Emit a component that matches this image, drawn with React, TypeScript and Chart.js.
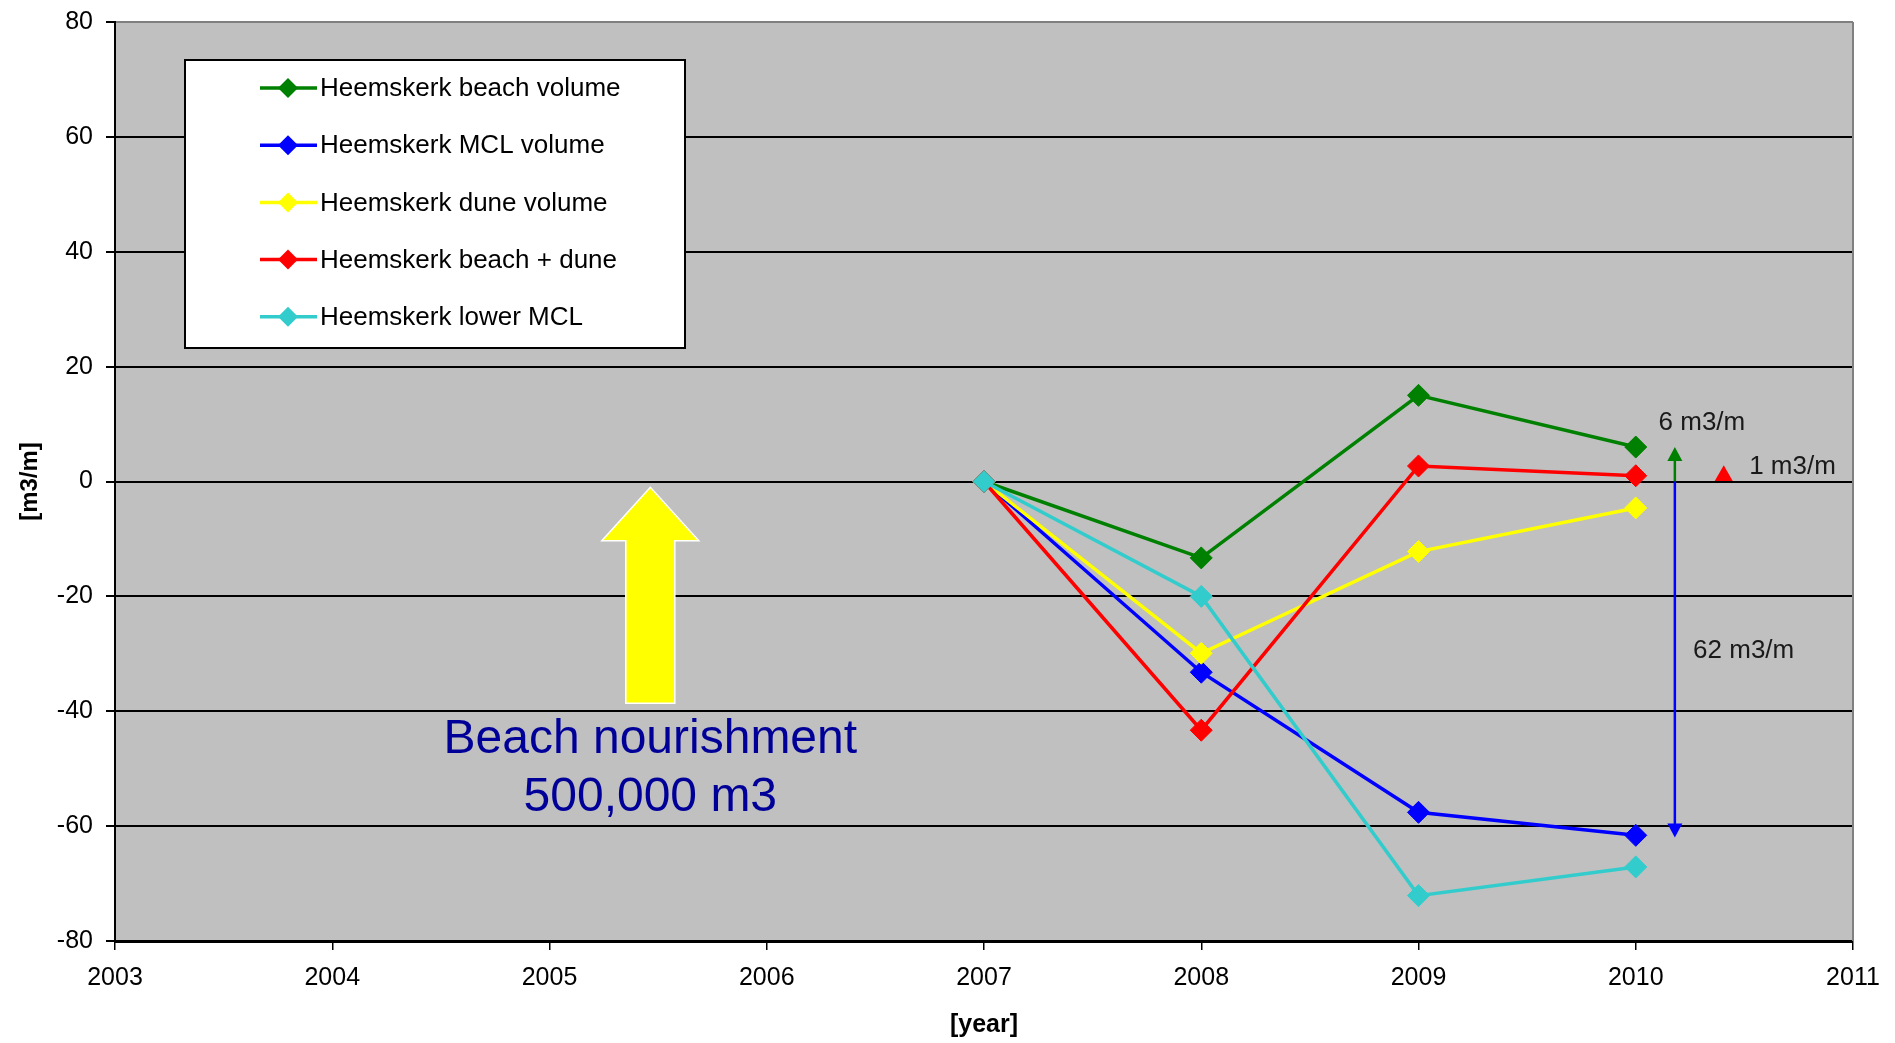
import React, { useEffect, useRef } from 'react';
import { Chart, registerables } from 'chart.js';

Chart.register(...registerables);

const FONT_FAMILY = '"Liberation Sans", Arial, Helvetica, sans-serif';

// Survey years and volume change relative to 2007 (m3/m)
const YEARS = [2007, 2008, 2009, 2010];
const BEACH_VOLUME = [0, -13.3, 15, 6];
const MCL_VOLUME = [0, -33.2, -57.6, -61.6];
const DUNE_VOLUME = [0, -29.9, -12.2, -4.6];
const BEACH_PLUS_DUNE = [0, -43.3, 2.7, 1];
const LOWER_MCL = [0, -20, -72.1, -67.1];

const SERIES_NAMES = [
  'Heemskerk beach volume',
  'Heemskerk MCL volume',
  'Heemskerk dune volume',
  'Heemskerk beach + dune',
  'Heemskerk lower MCL',
];
const SERIES_VALUES = [BEACH_VOLUME, MCL_VOLUME, DUNE_VOLUME, BEACH_PLUS_DUNE, LOWER_MCL];
const SERIES_COLORS = ['#008000', '#0000FF', '#FFFF00', '#FF0000', '#33CCCC'];

const X_TICKS = [2003, 2004, 2005, 2006, 2007, 2008, 2009, 2010, 2011];
const Y_TICKS = [-80, -60, -40, -20, 0, 20, 40, 60, 80];
const X_TITLE = '[year]';
const Y_TITLE = '[m3/m]';

// Nourishment marker (block arrow + caption), in axis units
const NOURISHMENT_YEAR = 2005.464;
const NOURISHMENT_TIP = -1;
const NOURISHMENT_HEAD_BASE = -10.3;
const NOURISHMENT_TAIL = -38.6;
const NOURISHMENT_TEXT = ['Beach nourishment', '500,000 m3'];
const NOURISHMENT_TEXT_Y = [-44.9, -55];

// Net changes at the last survey
const CHANGE_ARROW_YEAR = 2010.18;
const BEACH_GAIN = 6;
const MCL_LOSS = -62;
const NET_MARK_YEAR = 2010.405;
const BEACH_DUNE_NET = 1;
const GAIN_LABEL_AT = [2010.105, 10.2];
const NET_LABEL_AT = [2010.522, 2.54];
const LOSS_LABEL_AT = [2010.264, -29.5];

const unitLabel = (v: number) => `${Math.abs(v)} m3/m`;

const drawArrowHead = (ctx: CanvasRenderingContext2D, x: number, tipY: number, dir: number, color: string) => {
  ctx.fillStyle = color;
  ctx.beginPath();
  ctx.moveTo(x, tipY);
  ctx.lineTo(x - 7.5, tipY - dir * 14);
  ctx.lineTo(x + 7.5, tipY - dir * 14);
  ctx.closePath();
  ctx.fill();
};

const decorPlugin = {
  id: 'decor',
  beforeDraw(chart: any) {
    const { ctx, chartArea: a } = chart;
    ctx.save();
    ctx.fillStyle = '#C0C0C0';
    ctx.fillRect(a.left, a.top, a.right - a.left, a.bottom - a.top);
    ctx.restore();
  },
  afterDraw(chart: any) {
    const { ctx, chartArea: a } = chart;
    const xs = chart.scales.x;
    const ys = chart.scales.y;
    const px = (v: number) => xs.getPixelForValue(v);
    const py = (v: number) => ys.getPixelForValue(v);

    ctx.save();

    // right border of the plot area
    ctx.strokeStyle = '#808080';
    ctx.lineWidth = 2;
    ctx.beginPath();
    ctx.moveTo(a.right, a.top);
    ctx.lineTo(a.right, a.bottom);
    ctx.stroke();

    // nourishment block arrow
    const cx = px(NOURISHMENT_YEAR);
    const tipY = py(NOURISHMENT_TIP);
    const baseY = py(NOURISHMENT_HEAD_BASE);
    const tailY = py(NOURISHMENT_TAIL);
    const headHalf = 48.5;
    const shaftHalf = 24.5;
    ctx.beginPath();
    ctx.moveTo(cx, tipY);
    ctx.lineTo(cx + headHalf, baseY);
    ctx.lineTo(cx + shaftHalf, baseY);
    ctx.lineTo(cx + shaftHalf, tailY);
    ctx.lineTo(cx - shaftHalf, tailY);
    ctx.lineTo(cx - shaftHalf, baseY);
    ctx.lineTo(cx - headHalf, baseY);
    ctx.closePath();
    ctx.fillStyle = '#FFFF00';
    ctx.fill();
    ctx.strokeStyle = '#FFFFFF';
    ctx.lineWidth = 1.5;
    ctx.stroke();

    ctx.fillStyle = '#000099';
    ctx.font = `48px ${FONT_FAMILY}`;
    ctx.textAlign = 'center';
    ctx.textBaseline = 'middle';
    NOURISHMENT_TEXT.forEach((t, i) => ctx.fillText(t, cx, py(NOURISHMENT_TEXT_Y[i])));

    // gain / loss arrows
    const ax = px(CHANGE_ARROW_YEAR);
    const zeroY = py(0);
    const gainY = py(BEACH_GAIN);
    const lossY = py(MCL_LOSS);
    ctx.lineWidth = 2.5;
    ctx.strokeStyle = SERIES_COLORS[0];
    ctx.beginPath();
    ctx.moveTo(ax, zeroY);
    ctx.lineTo(ax, gainY + 12);
    ctx.stroke();
    drawArrowHead(ctx, ax, gainY, -1, SERIES_COLORS[0]);

    ctx.strokeStyle = SERIES_COLORS[1];
    ctx.beginPath();
    ctx.moveTo(ax, zeroY);
    ctx.lineTo(ax, lossY - 12);
    ctx.stroke();
    drawArrowHead(ctx, ax, lossY, 1, SERIES_COLORS[1]);

    // net beach + dune marker
    const nx = px(NET_MARK_YEAR);
    const ny = py(BEACH_DUNE_NET);
    const r = 10.4;
    ctx.fillStyle = SERIES_COLORS[3];
    ctx.beginPath();
    ctx.moveTo(nx, ny - r);
    ctx.lineTo(nx + r * 0.866, ny + r / 2);
    ctx.lineTo(nx - r * 0.866, ny + r / 2);
    ctx.closePath();
    ctx.fill();

    ctx.fillStyle = '#1A1A1A';
    ctx.font = `26px ${FONT_FAMILY}`;
    ctx.textAlign = 'left';
    ctx.textBaseline = 'middle';
    ctx.fillText(unitLabel(BEACH_GAIN), px(GAIN_LABEL_AT[0]), py(GAIN_LABEL_AT[1]));
    ctx.fillText(unitLabel(BEACH_DUNE_NET), px(NET_LABEL_AT[0]), py(NET_LABEL_AT[1]));
    ctx.fillText(unitLabel(MCL_LOSS), px(LOSS_LABEL_AT[0]), py(LOSS_LABEL_AT[1]));

    // legend box
    const lx = a.left + 70;
    const ly = a.top + 38;
    const lw = 500;
    const lh = 288;
    ctx.fillStyle = '#FFFFFF';
    ctx.fillRect(lx, ly, lw, lh);
    ctx.strokeStyle = '#000000';
    ctx.lineWidth = 2;
    ctx.strokeRect(lx, ly, lw, lh);

    ctx.font = `26px ${FONT_FAMILY}`;
    ctx.textAlign = 'left';
    ctx.textBaseline = 'middle';
    chart.data.datasets.forEach((ds: any, i: number) => {
      const y = ly + 28 + i * 57.2;
      const x0 = lx + 75;
      ctx.strokeStyle = ds.borderColor;
      ctx.lineWidth = 3.5;
      ctx.beginPath();
      ctx.moveTo(x0, y);
      ctx.lineTo(x0 + 57, y);
      ctx.stroke();
      ctx.fillStyle = ds.borderColor;
      const mx = x0 + 28;
      const mr = 10;
      ctx.beginPath();
      ctx.moveTo(mx, y - mr);
      ctx.lineTo(mx + mr, y);
      ctx.lineTo(mx, y + mr);
      ctx.lineTo(mx - mr, y);
      ctx.closePath();
      ctx.fill();
      ctx.fillStyle = '#000000';
      ctx.fillText(ds.label, x0 + 60, y + 1);
    });

    ctx.restore();
  },
};

export default function App() {
  const canvasRef = useRef<HTMLCanvasElement>(null);

  useEffect(() => {
    const canvas = canvasRef.current;
    if (!canvas) return;

    const datasets = SERIES_NAMES.map((name, i) => ({
      label: name,
      data: YEARS.map((yr, j) => ({ x: yr, y: SERIES_VALUES[i][j] })),
      borderColor: SERIES_COLORS[i],
      backgroundColor: SERIES_COLORS[i],
      borderWidth: 3.5,
      pointStyle: 'rectRot',
      pointRadius: 11,
      pointBorderWidth: 1,
      pointBackgroundColor: SERIES_COLORS[i],
      pointBorderColor: SERIES_COLORS[i],
      tension: 0,
      order: SERIES_NAMES.length - 1 - i,
    }));

    const chart = new Chart(canvas, {
      type: 'line',
      data: { datasets },
      options: {
        animation: false,
        responsive: true,
        maintainAspectRatio: false,
        layout: { padding: { left: 0, top: 22, right: 42, bottom: 0 } },
        plugins: {
          legend: { display: false },
          tooltip: { enabled: false },
        },
        scales: {
          x: {
            type: 'linear',
            min: X_TICKS[0],
            max: X_TICKS[X_TICKS.length - 1],
            afterBuildTicks: (s: any) => {
              s.ticks = X_TICKS.map((v) => ({ value: v }));
            },
            afterFit: (s: any) => {
              s.height = 102;
            },
            grid: {
              drawOnChartArea: false,
              drawTicks: true,
              tickLength: 9,
              tickColor: '#000000',
              lineWidth: 1.5,
            },
            border: { display: true, color: '#000000', width: 3 },
            ticks: {
              color: '#000000',
              padding: 13,
              maxRotation: 0,
              autoSkip: false,
              font: { family: FONT_FAMILY, size: 25 },
              callback: (v: any) => String(v),
            },
            title: {
              display: true,
              text: X_TITLE,
              color: '#000000',
              font: { family: FONT_FAMILY, size: 25, weight: 'bold' },
              padding: { top: 0, bottom: 3 },
            },
          },
          y: {
            type: 'linear',
            min: Y_TICKS[0],
            max: Y_TICKS[Y_TICKS.length - 1],
            afterBuildTicks: (s: any) => {
              s.ticks = Y_TICKS.map((v) => ({ value: v }));
            },
            afterFit: (s: any) => {
              s.width = 115;
              s.paddingTop = 0;
              s.paddingBottom = 0;
            },
            grid: {
              drawOnChartArea: true,
              drawTicks: true,
              tickLength: 9,
              tickColor: '#000000',
              lineWidth: 2,
              color: (c: any) =>
                c.tick && c.tick.value === Y_TICKS[Y_TICKS.length - 1] ? '#808080' : '#000000',
            },
            border: { display: true, color: '#000000', width: 2 },
            ticks: {
              color: '#000000',
              padding: 13,
              font: { family: FONT_FAMILY, size: 25 },
              callback: (v: any) => String(v),
            },
            title: {
              display: true,
              text: Y_TITLE,
              color: '#000000',
              font: { family: FONT_FAMILY, size: 24, weight: 'bold' },
              padding: { top: 16, bottom: 0 },
            },
          },
        },
      },
      plugins: [decorPlugin],
    } as any);

    return () => chart.destroy();
  }, []);

  return (
    <div style={{ position: 'fixed', left: 0, top: 0, width: 1895, height: 1043, background: '#FFFFFF' }}>
      <canvas ref={canvasRef} />
    </div>
  );
}
